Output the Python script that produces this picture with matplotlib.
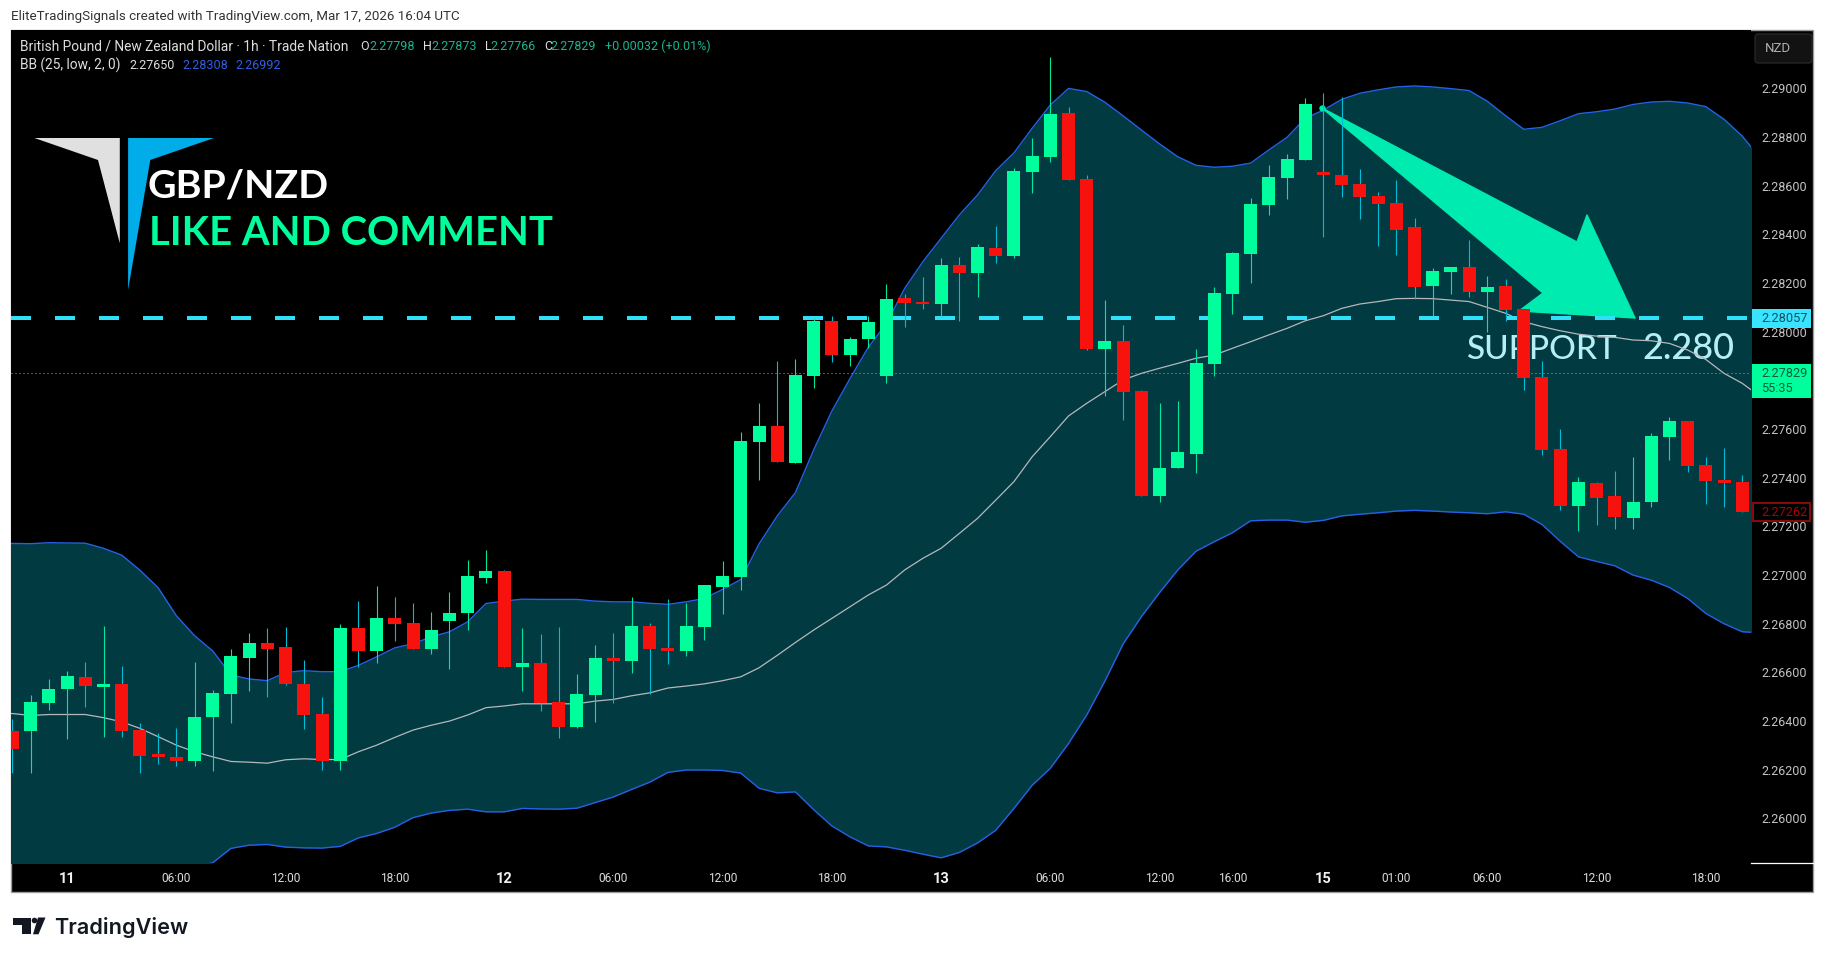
import numpy as np
import matplotlib
import matplotlib.pyplot as plt
from matplotlib.patches import Circle, FancyBboxPatch, Polygon, Rectangle
from matplotlib.transforms import Affine2D

matplotlib.use("Agg")

W, H = 1825, 959

# bars run from index -3 to 92, index 0 is the "11" session open
opens = [
    2.26359, 2.26359, 2.26474, 2.26531, 2.26581, 2.26540, 2.26552, 2.26363, 2.26264, 2.26252,
    2.26235, 2.26416, 2.26511, 2.26659, 2.26720, 2.26704, 2.26552, 2.26429, 2.26235, 2.26782,
    2.26688, 2.26823, 2.26803, 2.26696, 2.26811, 2.26844, 2.26988, 2.27016, 2.26622, 2.26638,
    2.26478, 2.26375, 2.26507, 2.26659, 2.26647, 2.26790, 2.26700, 2.26688, 2.26786, 2.26951,
    2.26992, 2.27547, 2.27613, 2.27460, 2.27818, 2.28044, 2.27904, 2.27970, 2.27818, 2.28139,
    2.28122, 2.28114, 2.28274, 2.28241, 2.28344, 2.28311, 2.28656, 2.28718, 2.28899, 2.28628,
    2.27929, 2.27962, 2.27756, 2.27325, 2.27440, 2.27497, 2.27867, 2.28155, 2.28319, 2.28521,
    2.28632, 2.28706, 2.28656, 2.28644, 2.28607, 2.28558, 2.28529, 2.28430, 2.28188, 2.28245,
    2.28266, 2.28163, 2.28188, 2.28093, 2.27814, 2.27518, 2.27283, 2.27378, 2.27324, 2.27234,
    2.27300, 2.27567, 2.27633, 2.27452, 2.27390, 2.27382,
]
highs = [
    2.26408, 2.26507, 2.26573, 2.26605, 2.26642, 2.26790, 2.26626, 2.26392, 2.26351, 2.26371,
    2.26642, 2.26527, 2.26696, 2.26762, 2.26782, 2.26786, 2.26651, 2.26499, 2.26799, 2.26893,
    2.26955, 2.26910, 2.26885, 2.26848, 2.26930, 2.27062, 2.27103, 2.27020, 2.26782, 2.26758,
    2.26786, 2.26593, 2.26712, 2.26762, 2.26910, 2.26803, 2.26901, 2.26885, 2.26959, 2.27058,
    2.27588, 2.27707, 2.27880, 2.27888, 2.28056, 2.28065, 2.27978, 2.28065, 2.28196, 2.28155,
    2.28225, 2.28303, 2.28307, 2.28361, 2.28435, 2.28673, 2.28796, 2.29129, 2.28924, 2.28644,
    2.28130, 2.28028, 2.27760, 2.27707, 2.27715, 2.27929, 2.28184, 2.28328, 2.28550, 2.28685,
    2.28730, 2.28961, 2.28981, 2.28965, 2.28669, 2.28574, 2.28624, 2.28467, 2.28262, 2.28266,
    2.28377, 2.28229, 2.28217, 2.28097, 2.27879, 2.27600, 2.27403, 2.27382, 2.27427, 2.27485,
    2.27583, 2.27649, 2.27633, 2.27485, 2.27522, 2.27411,
]
lows = [
    2.26188, 2.26188, 2.26445, 2.26326, 2.26457, 2.26334, 2.26334, 2.26186, 2.26223, 2.26215,
    2.26215, 2.26194, 2.26392, 2.26523, 2.26499, 2.26548, 2.26367, 2.26198, 2.26198, 2.26622,
    2.26638, 2.26729, 2.26696, 2.26675, 2.26614, 2.26774, 2.26967, 2.26622, 2.26523, 2.26441,
    2.26330, 2.26371, 2.26396, 2.26474, 2.26597, 2.26511, 2.26634, 2.26667, 2.26733, 2.26840,
    2.26938, 2.27391, 2.27465, 2.27460, 2.27769, 2.27876, 2.27859, 2.27933, 2.27789, 2.28019,
    2.28093, 2.28062, 2.28044, 2.28143, 2.28282, 2.28303, 2.28570, 2.28698, 2.28624, 2.27925,
    2.27736, 2.27637, 2.27325, 2.27300, 2.27440, 2.27419, 2.27818, 2.28073, 2.28200, 2.28480,
    2.28546, 2.28706, 2.28389, 2.28554, 2.28463, 2.28352, 2.28315, 2.28135, 2.28065, 2.28155,
    2.28143, 2.27999, 2.28044, 2.27760, 2.27493, 2.27267, 2.27181, 2.27205, 2.27189, 2.27189,
    2.27279, 2.27472, 2.27423, 2.27292, 2.27279, 2.27259,
]
closes = [
    2.26285, 2.26478, 2.26531, 2.26585, 2.26544, 2.26552, 2.26359, 2.26256, 2.26252, 2.26235,
    2.26416, 2.26515, 2.26667, 2.26720, 2.26696, 2.26552, 2.26425, 2.26235, 2.26782, 2.26688,
    2.26823, 2.26799, 2.26696, 2.26774, 2.26844, 2.26996, 2.27016, 2.26622, 2.26638, 2.26474,
    2.26375, 2.26511, 2.26659, 2.26647, 2.26790, 2.26696, 2.26688, 2.26790, 2.26959, 2.26996,
    2.27551, 2.27613, 2.27465, 2.27822, 2.28044, 2.27904, 2.27970, 2.28040, 2.28135, 2.28118,
    2.28114, 2.28274, 2.28241, 2.28348, 2.28311, 2.28661, 2.28722, 2.28895, 2.28624, 2.27929,
    2.27962, 2.27752, 2.27325, 2.27440, 2.27506, 2.27871, 2.28159, 2.28324, 2.28525, 2.28636,
    2.28710, 2.28936, 2.28644, 2.28603, 2.28554, 2.28525, 2.28418, 2.28184, 2.28250, 2.28266,
    2.28163, 2.28184, 2.28089, 2.27811, 2.27513, 2.27283, 2.27382, 2.27316, 2.27238, 2.27300,
    2.27571, 2.27633, 2.27448, 2.27386, 2.27378, 2.27259,
]

# bollinger bands run from index -4 to 93, they start and end past the plot edges
bb_upper = [
    2.27130, 2.27130, 2.27129, 2.27133, 2.27132, 2.27131, 2.27110, 2.27082, 2.27020, 2.26948,
    2.26833, 2.26751, 2.26688, 2.26589, 2.26573, 2.26566, 2.26600, 2.26607, 2.26603, 2.26603,
    2.26629, 2.26664, 2.26701, 2.26718, 2.26746, 2.26767, 2.26808, 2.26883, 2.26893, 2.26901,
    2.26900, 2.26900, 2.26900, 2.26893, 2.26890, 2.26890, 2.26884, 2.26880, 2.26890, 2.26904,
    2.26941, 2.26982, 2.27128, 2.27243, 2.27339, 2.27514, 2.27674, 2.27808, 2.27936, 2.28034,
    2.28178, 2.28288, 2.28384, 2.28480, 2.28562, 2.28662, 2.28735, 2.28836, 2.28932, 2.29000,
    2.28987, 2.28943, 2.28887, 2.28829, 2.28772, 2.28719, 2.28684, 2.28676, 2.28680, 2.28693,
    2.28747, 2.28799, 2.28877, 2.28911, 2.28955, 2.28980, 2.28994, 2.29006, 2.29010, 2.29006,
    2.28999, 2.28991, 2.28947, 2.28888, 2.28832, 2.28840, 2.28867, 2.28896, 2.28904, 2.28915,
    2.28934, 2.28944, 2.28947, 2.28940, 2.28925, 2.28873, 2.28804, 2.28712,
]
bb_basis = [
    2.26431, 2.26431, 2.26423, 2.26427, 2.26427, 2.26427, 2.26414, 2.26397, 2.26370, 2.26336,
    2.26301, 2.26274, 2.26253, 2.26234, 2.26231, 2.26227, 2.26241, 2.26245, 2.26242, 2.26242,
    2.26274, 2.26301, 2.26333, 2.26363, 2.26383, 2.26400, 2.26425, 2.26455, 2.26462, 2.26471,
    2.26471, 2.26471, 2.26471, 2.26482, 2.26489, 2.26504, 2.26516, 2.26536, 2.26544, 2.26553,
    2.26566, 2.26582, 2.26619, 2.26670, 2.26723, 2.26774, 2.26822, 2.26870, 2.26918, 2.26959,
    2.27021, 2.27069, 2.27110, 2.27171, 2.27233, 2.27308, 2.27384, 2.27486, 2.27569, 2.27654,
    2.27706, 2.27754, 2.27802, 2.27829, 2.27850, 2.27870, 2.27891, 2.27904, 2.27932, 2.27959,
    2.27987, 2.28014, 2.28045, 2.28066, 2.28096, 2.28114, 2.28124, 2.28136, 2.28137, 2.28136,
    2.28130, 2.28124, 2.28100, 2.28076, 2.28041, 2.28021, 2.28004, 2.27990, 2.27982, 2.27977,
    2.27966, 2.27963, 2.27952, 2.27925, 2.27886, 2.27829, 2.27788, 2.27733,
]
bb_lower = [
    2.25732, 2.25732, 2.25716, 2.25721, 2.25722, 2.25723, 2.25718, 2.25712, 2.25720, 2.25724,
    2.25769, 2.25797, 2.25818, 2.25877, 2.25890, 2.25893, 2.25882, 2.25879, 2.25878, 2.25885,
    2.25920, 2.25938, 2.25964, 2.26003, 2.26022, 2.26033, 2.26038, 2.26027, 2.26027, 2.26041,
    2.26039, 2.26038, 2.26042, 2.26065, 2.26088, 2.26119, 2.26149, 2.26189, 2.26199, 2.26199,
    2.26197, 2.26186, 2.26124, 2.26105, 2.26109, 2.26036, 2.25969, 2.25924, 2.25887, 2.25883,
    2.25869, 2.25853, 2.25838, 2.25860, 2.25899, 2.25951, 2.26041, 2.26136, 2.26206, 2.26308,
    2.26425, 2.26565, 2.26717, 2.26829, 2.26928, 2.27021, 2.27098, 2.27137, 2.27174, 2.27223,
    2.27226, 2.27226, 2.27217, 2.27225, 2.27243, 2.27250, 2.27256, 2.27263, 2.27266, 2.27263,
    2.27259, 2.27256, 2.27252, 2.27260, 2.27250, 2.27208, 2.27139, 2.27075, 2.27056, 2.27038,
    2.27000, 2.26979, 2.26949, 2.26904, 2.26842, 2.26800, 2.26767, 2.26763,
]

price_ticks = [2.29, 2.288, 2.286, 2.284, 2.282, 2.28, 2.276, 2.274, 2.272,
               2.27, 2.268, 2.266, 2.264, 2.262, 2.26]
time_ticks = [0, 6, 12, 18, 24, 30, 36, 42, 48, 54, 60, 64, 69, 73, 78, 84, 90]
time_labels = ["11", "06:00", "12:00", "18:00", "12", "06:00", "12:00", "18:00", "13",
               "06:00", "12:00", "16:00", "15", "01:00", "06:00", "12:00", "18:00"]
day_labels = ["11", "12", "13", "15"]

support_level = 2.28057
last_close = 2.27829

UP = "#00ff9c"
DOWN = "#f7120e"
UP_WICK = "#00e8a0"
DOWN_WICK = "#00bcd4"
BAND = "#2561e6"
FILL = "#023a42"
FONT = "Roboto"

# pixel coordinates of the reference image, used for the page furniture
px = Affine2D().scale(1 / W, -1 / H).translate(0, 1)

fig = plt.figure(figsize=(W / 100, H / 100), dpi=100, facecolor="white")
px_fig = px + fig.transFigure


def add_text(x, y, s, size, color, ha="left", va="center", weight="normal", family=FONT, **kw):
    return fig.text(x, y, s, transform=px_fig, fontsize=size, color=color, ha=ha, va=va,
                    fontweight=weight, family=family, **kw)


# black chart frame behind the axes
fig.add_artist(Rectangle((11, 30), 1802, 862, transform=px_fig, facecolor="black",
                         edgecolor="#9c9c9c", linewidth=1.0, zorder=-1))

ax = fig.add_axes([11 / W, 1 - 862.7 / H, 1740 / W, 832.7 / H], facecolor="black")
ax.set_xlim(-3.081, 92.48)
ax.set_ylim(2.25818, 2.29240)
for spine in ax.spines.values():
    spine.set_visible(False)

bars = np.arange(-3, 93)
band_x = np.arange(-4, 94)
o = np.array(opens)
c = np.array(closes)
rising = c >= o

ax.fill_between(band_x, bb_lower, bb_upper, color=FILL, linewidth=0, zorder=1)
ax.plot(band_x, bb_upper, color=BAND, lw=1.0, zorder=2)
ax.plot(band_x, bb_lower, color=BAND, lw=1.0, zorder=2)
ax.plot(band_x, bb_basis, color="#b4b8bc", lw=0.9, zorder=4)

# hand drawn arrow and label from the chart author
arrow = [(1322, 108), (1577, 242), (1587, 215), (1635, 318), (1519, 311), (1543, 293)]
ax.add_patch(Polygon(arrow, closed=True, transform=px_fig, facecolor="#00ebb0",
                     edgecolor="#00ebb0", linewidth=1.0, joinstyle="round", zorder=3))
ax.add_patch(Circle((1322.5, 108.5), 2.5, transform=px_fig, color="#00ebb0", zorder=3))
ax.text(1466, 359, "SUPPORT", transform=px_fig, fontsize=24, color="#b6eef6",
        family="Lato", weight="medium", ha="left", va="baseline", zorder=3)
ax.text(1642, 359, "2.280", transform=px_fig, fontsize=26, color="#b6eef6",
        family="Lato", weight="medium", ha="left", va="baseline", zorder=3)

ax.plot([-3.081, 92.48], [support_level, support_level], color="#2fe0f8", lw=2.88,
        dashes=(5, 6), dash_capstyle="butt", zorder=4)
ax.plot([-3.081, 92.48], [last_close, last_close], color="#00ff9c", lw=0.72,
        dashes=(1, 3), dash_capstyle="butt", zorder=4)

ax.vlines(bars[rising], np.array(lows)[rising], np.array(highs)[rising], color=UP_WICK, lw=0.8, zorder=5)
ax.vlines(bars[~rising], np.array(lows)[~rising], np.array(highs)[~rising], color=DOWN_WICK, lw=0.8, zorder=5)
ax.bar(bars[rising], (c - o)[rising], bottom=o[rising], width=0.714, color=UP,
       linewidth=0, zorder=6, antialiased=False)
ax.bar(bars[~rising], (c - o)[~rising], bottom=o[~rising], width=0.714, color=DOWN,
       linewidth=0, zorder=6, antialiased=False)

ax.yaxis.tick_right()
ax.set_yticks(price_ticks)
ax.set_yticklabels([f"{p:.5f}" for p in price_ticks], family=FONT, fontsize=9, color="#c4c4c4")
ax.tick_params(axis="y", length=0, pad=7.2)
ax.set_xticks(time_ticks)
ax.set_xticklabels(time_labels, family=FONT, fontsize=8.6, color="#dcdcdc")
ax.tick_params(axis="x", length=0, pad=6.5)
for label in ax.get_xticklabels():
    if label.get_text() in day_labels:
        label.set_fontweight("bold")
        label.set_fontsize(10.5)
        label.set_color("#f0f0f0")

# white line at the foot of the price scale
fig.add_artist(plt.Line2D([1751, 1813], [862.5, 862.5], transform=px_fig, color="white", lw=0.9))

# logo and headline
fig.add_artist(Polygon([(34.4, 138), (119.8, 138), (119.8, 243.3), (98, 160)], closed=True,
                       transform=px_fig, facecolor="#e0e0e0", edgecolor="none"))
fig.add_artist(Polygon([(128.1, 138), (213.9, 138), (150.3, 160), (128.1, 290)], closed=True,
                       transform=px_fig, facecolor="#00ade8", edgecolor="none"))
add_text(148, 197.5, "GBP/NZD", 28.4, "white", va="baseline", family="Lato", weight="bold")
add_text(149, 245, "LIKE AND COMMENT", 28.8, "#00ff9c", va="baseline", family="Lato", weight="bold")

# header and legend rows
add_text(11, 16.5, "EliteTradingSignals created with TradingView.com, Mar 17, 2026 16:04 UTC", 9.6, "#333333")
add_text(20, 46.7, "British Pound / New Zealand Dollar · 1h · Trade Nation", 9.9, "#dddddd")
value_color = "#17b594"
for lx, vx, name, value in [(360.6, 369.7, "O", "2.27798"), (423, 431.4, "H", "2.27873"),
                            (484.8, 490.7, "L", "2.27766"), (544.5, 550.8, "C", "2.27829")]:
    add_text(lx, 46.7, name, 9, "#dddddd")
    add_text(vx, 46.7, value, 9, value_color)
add_text(605, 46.7, "+0.00032 (+0.01%)", 9, value_color)
add_text(20, 65.7, "BB (25, low, 2, 0)", 9.9, "#dddddd")
add_text(129.7, 65.7, "2.27650", 9, "#dddddd")
add_text(182.7, 65.7, "2.28308", 9, "#2f5fe6")
add_text(235.7, 65.7, "2.26992", 9, "#2f5fe6")

# currency button
fig.add_artist(FancyBboxPatch((1757, 36), 53, 25, boxstyle="round,pad=2,rounding_size=3",
                              transform=px_fig, facecolor="#121212", edgecolor="#2c2c2c", lw=0.8))
add_text(1778, 48.7, "NZD", 9.5, "#b0b0b0", ha="center")

# price scale tags
fig.add_artist(Rectangle((1752, 309.3), 59, 19, transform=px_fig, facecolor="#38e4ff", edgecolor="none"))
add_text(1761, 318.7, "2.28057", 9.2, "#14505c")
fig.add_artist(Rectangle((1752, 364.3), 59, 34, transform=px_fig, facecolor="#00ff9c", edgecolor="none"))
add_text(1761, 373.7, "2.27829", 9.2, "#0a5e3f")
add_text(1761, 388.7, "55:35", 9.2, "#0a5e3f")
fig.add_artist(Rectangle((1753, 503), 57, 18, transform=px_fig, facecolor="black",
                         edgecolor="#8a0a0a", lw=1.4))
add_text(1761, 512, "2.27262", 9.2, "#b00000")

# TradingView mark
dark = "#131722"
fig.add_artist(Polygon([(13, 917.5), (31, 917.5), (31, 934.3), (22, 934.3), (22, 925), (13, 925)],
                       closed=True, transform=px_fig, facecolor=dark, edgecolor="none"))
fig.add_artist(Polygon([(38, 917.5), (45.5, 917.5), (38.5, 934.3), (33, 934.3)], closed=True,
                       transform=px_fig, facecolor=dark, edgecolor="none"))
fig.add_artist(Circle((34.5, 920.5), 2.8, transform=px_fig, facecolor=dark, edgecolor="none"))
add_text(54, 934.3, "TradingView", 15.6, dark, va="baseline", family="Inter", weight="semibold")

fig.savefig("out.png", dpi=100, facecolor="white")
plt.close(fig)
